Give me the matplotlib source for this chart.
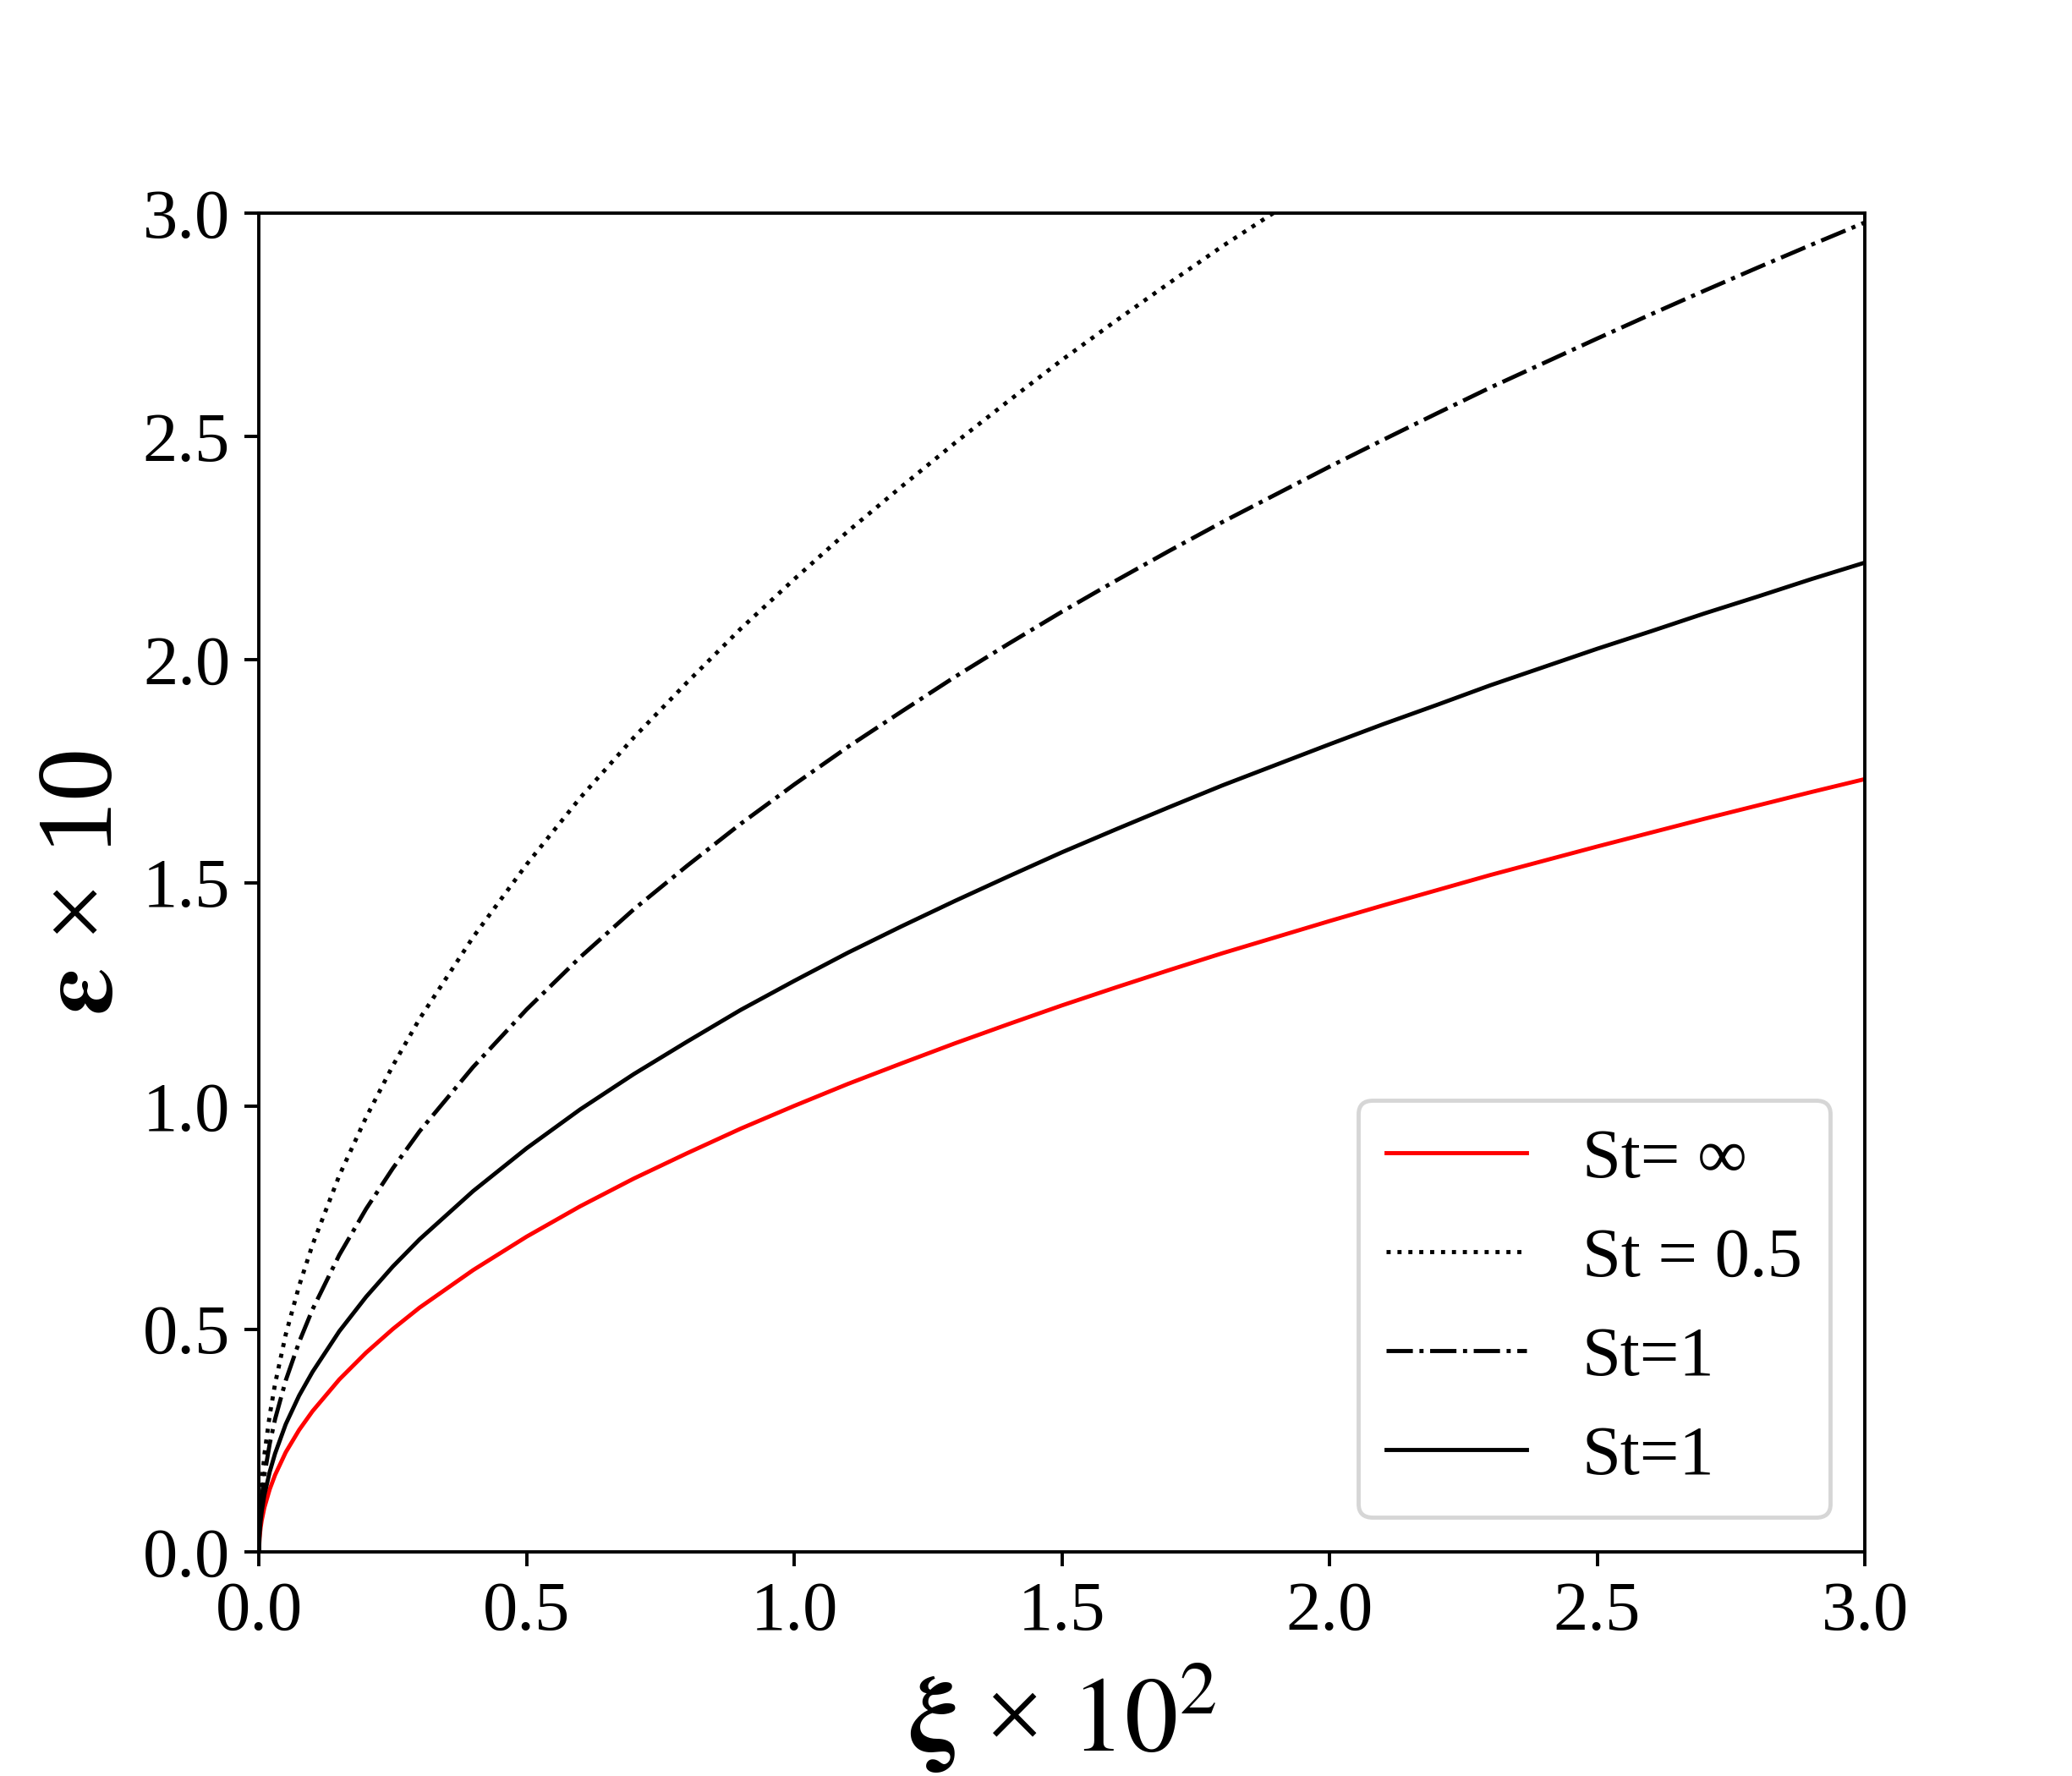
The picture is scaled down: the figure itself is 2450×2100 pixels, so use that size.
import matplotlib.pyplot as plt

plt.rcParams['font.family'] = ['Liberation Serif', 'DejaVu Serif']
plt.rcParams['mathtext.fontset'] = 'stix'

# значения (xi * 10^2, eps * 10)
xi = [0, 0.001, 0.003, 0.005, 0.01, 0.02, 0.03, 0.05, 0.075, 0.1, 0.15, 0.2, 0.25, 0.3,
      0.4, 0.5, 0.6, 0.7, 0.8, 0.9, 1.0, 1.1, 1.2, 1.3, 1.4, 1.5, 1.6, 1.7, 1.8, 1.9,
      2.0, 2.1, 2.2, 2.3, 2.4, 2.5, 2.6, 2.7, 2.8, 2.9, 3.0]
eps_inf = [0, 0.032, 0.055, 0.071, 0.100, 0.141, 0.173, 0.224, 0.274, 0.316, 0.387, 0.447,
           0.500, 0.548, 0.632, 0.707, 0.775, 0.837, 0.894, 0.949, 1.000, 1.049, 1.095,
           1.140, 1.183, 1.225, 1.265, 1.304, 1.342, 1.378, 1.414, 1.449, 1.483, 1.517,
           1.549, 1.581, 1.612, 1.643, 1.673, 1.703, 1.732]
eps_05 = [0, 0.070, 0.120, 0.155, 0.218, 0.307, 0.377, 0.488, 0.597, 0.689, 0.844, 0.974,
          1.090, 1.195, 1.378, 1.541, 1.690, 1.825, 1.949, 2.069, 2.180, 2.287, 2.387,
          2.485, 2.579, 2.671, 2.758, 2.843, 2.926, 3.004, 3.083, 3.159, 3.233, 3.307,
          3.377, 3.447, 3.514, 3.582, 3.647, 3.713, 3.776]
eps_1a = [0, 0.055, 0.095, 0.122, 0.172, 0.243, 0.298, 0.385, 0.471, 0.544, 0.666, 0.769,
          0.860, 0.943, 1.087, 1.216, 1.333, 1.440, 1.538, 1.632, 1.720, 1.804, 1.883,
          1.961, 2.035, 2.107, 2.176, 2.243, 2.308, 2.370, 2.432, 2.492, 2.551, 2.609,
          2.664, 2.719, 2.773, 2.826, 2.878, 2.929, 2.979]
eps_1b = [0, 0.041, 0.070, 0.091, 0.128, 0.180, 0.221, 0.287, 0.351, 0.404, 0.495, 0.572,
          0.640, 0.701, 0.809, 0.905, 0.992, 1.071, 1.144, 1.215, 1.280, 1.343, 1.402,
          1.459, 1.514, 1.568, 1.619, 1.669, 1.718, 1.764, 1.810, 1.855, 1.898, 1.942,
          1.983, 2.024, 2.063, 2.103, 2.141, 2.180, 2.217]

fig, ax = plt.subplots(figsize=(7, 6), dpi=350)
fig.subplots_adjust(left=0.125, right=0.9, top=0.88, bottom=0.126)

ax.plot(xi, eps_inf, color='red', lw=1, label='St= ∞')
ax.plot(xi, eps_05, color='black', lw=1, ls=':', label='St = 0.5')
ax.plot(xi, eps_1a, color='black', lw=1, ls='-.', label='St=1')
ax.plot(xi, eps_1b, color='black', lw=1, ls='-', label='St=1')

ax.set_xlim(0, 3)
ax.set_ylim(0, 3)
ax.set_xticks([0, 0.5, 1.0, 1.5, 2.0, 2.5, 3.0])
ax.set_yticks([0, 0.5, 1.0, 1.5, 2.0, 2.5, 3.0])
ax.tick_params(labelsize=17)

ax.set_xlabel(r'$\mathbf{\xi}$ × $10^2$', fontsize=26, labelpad=4)
ax.set_ylabel(r'$\mathbf{\varepsilon}$ × 10', fontsize=26, labelpad=2)

ax.legend(loc='lower right', fontsize=17)

plt.savefig('out.png')
